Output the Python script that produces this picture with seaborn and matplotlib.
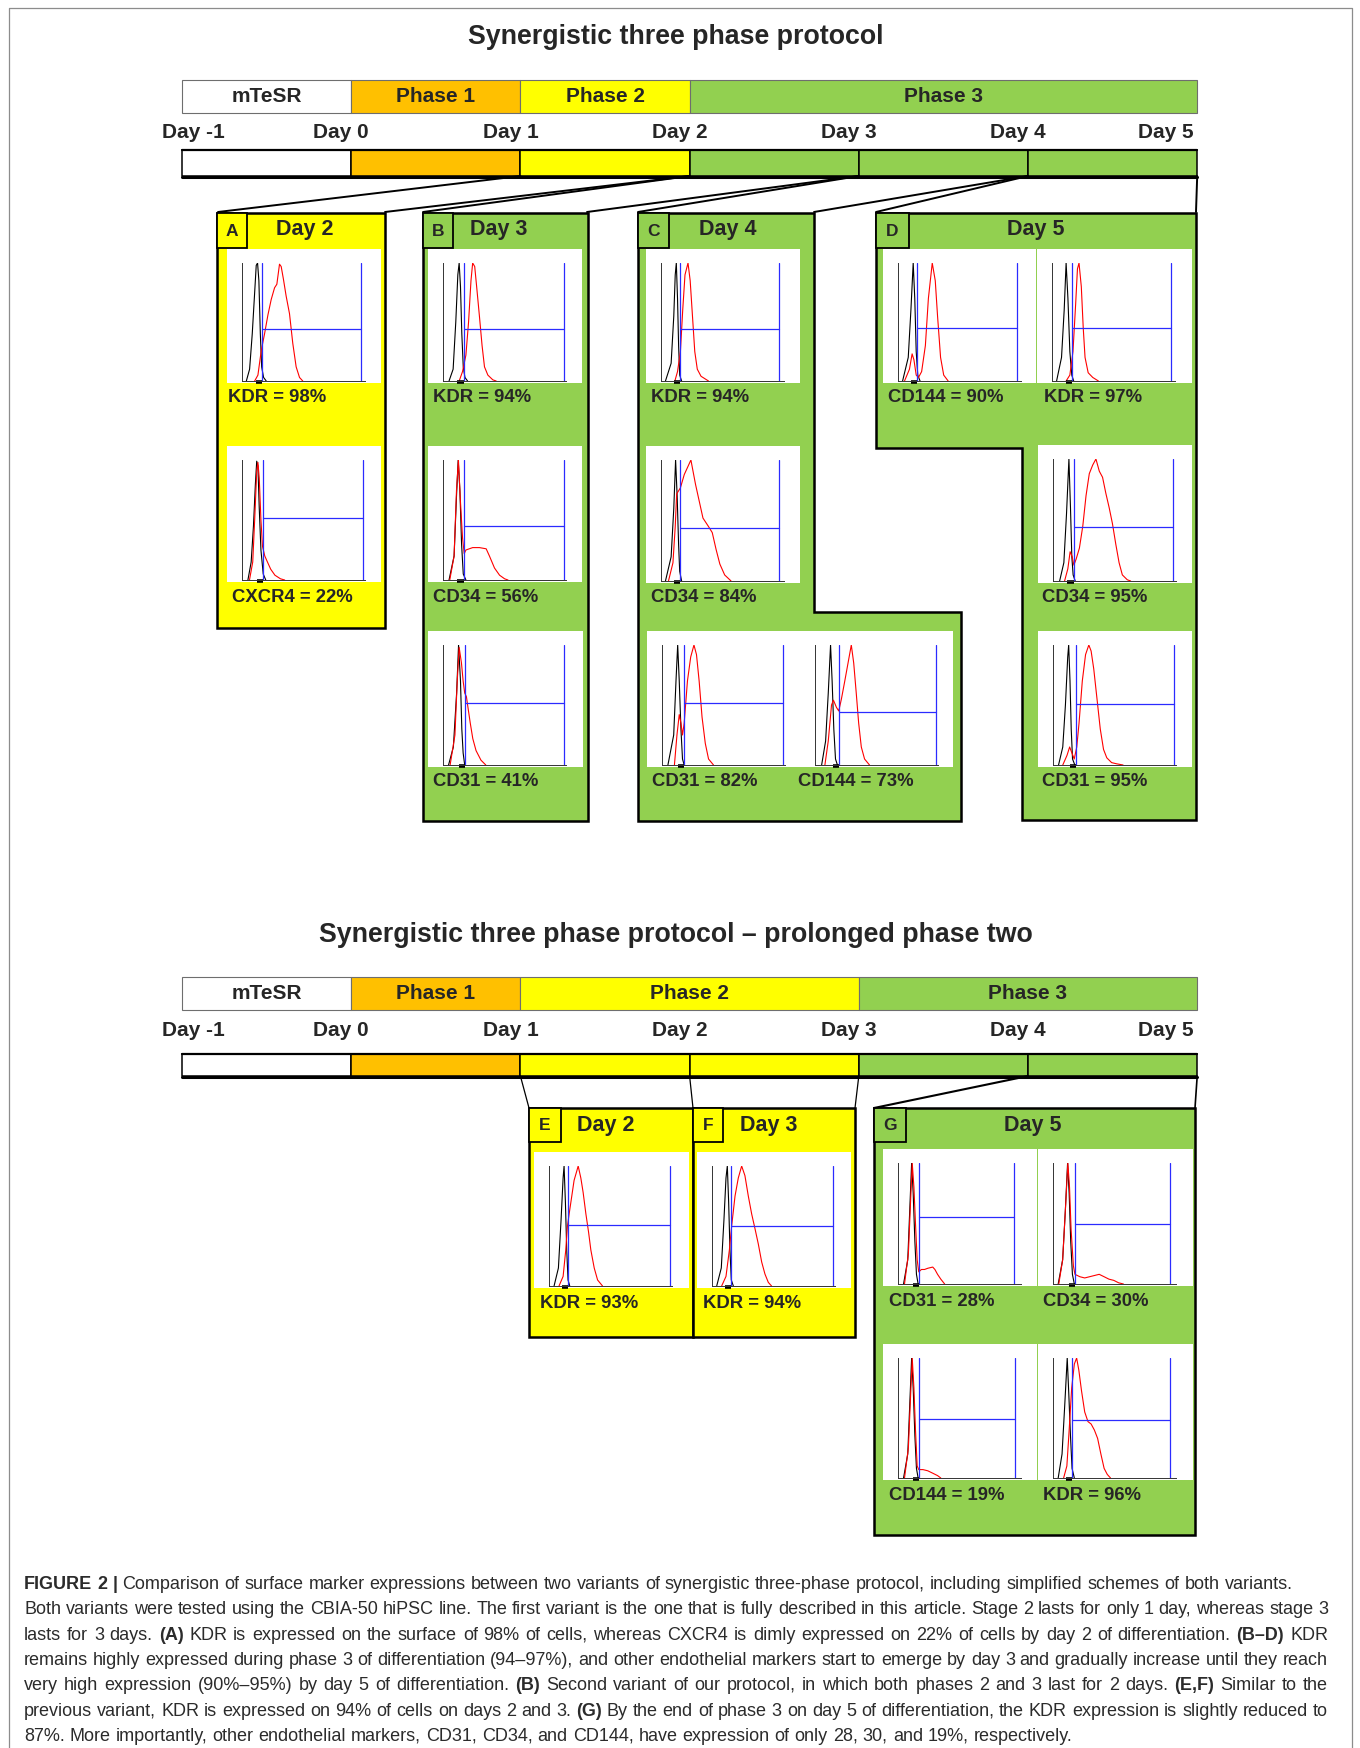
import matplotlib
matplotlib.use('Agg')
import matplotlib.pyplot as plt
import seaborn as sns
import numpy as np
from matplotlib.patches import Rectangle, Polygon

sns.set_style('white')
plt.rcParams['font.family'] = ['Liberation Sans', 'DejaVu Sans']

# ---------------------------------------------------------------- data
title_v1 = 'Synergistic three phase protocol'
title_v2 = 'Synergistic three phase protocol \u2013 prolonged phase two'
phase_names = ['mTeSR', 'Phase 1', 'Phase 2', 'Phase 3']
phase_len_v1 = [1, 1, 1, 3]          # days per phase, variant 1
phase_len_v2 = [1, 1, 2, 2]          # days per phase, variant 2
day_labels = ['Day -1', 'Day 0', 'Day 1', 'Day 2', 'Day 3', 'Day 4', 'Day 5']

panel_letters = ['A', 'B', 'C', 'D', 'E', 'F', 'G']
panel_days = ['Day 2', 'Day 3', 'Day 4', 'Day 5', 'Day 2', 'Day 3', 'Day 5']
panel_phase = ['Phase 2', 'Phase 3', 'Phase 3', 'Phase 3', 'Phase 2', 'Phase 2', 'Phase 3']

# histogram curves: x = log-channel position (% of axis), y = % of peak
A_KDR_black = ([3.6, 6.3, 8.5, 10.5, 11.8, 12.9, 14.0, 15.2, 16.3, 17.9, 20.1],
               [0, 10, 40, 75, 98, 100, 85, 40, 12, 3, 0])
A_KDR_red = ([10.5, 13.2, 16.0, 18.7, 21.5, 24.2, 27.0, 28.9, 31.1, 32.5, 34.4, 36.6, 39.4, 42.1, 44.9, 47.7, 50.4],
             [0, 5, 26, 40, 56, 69, 79, 82, 99, 97, 86, 72, 57, 32, 12, 3, 0])
A_CXCR4_black = ([4.9, 7.6, 9.5, 11.1, 12.2, 13.2, 14.3, 15.7, 17.6, 19.7],
                 [0, 15, 45, 80, 99, 95, 60, 25, 5, 0])
A_CXCR4_red = ([6.2, 8.9, 10.5, 12.2, 13.2, 14.3, 15.7, 17.0, 18.9, 21.1, 23.8, 27.3, 31.9, 35.4],
               [0, 15, 50, 90, 98, 85, 50, 28, 20, 15, 9, 4, 1, 0])
B_KDR_black = ([5.0, 8.4, 10.6, 12.3, 13.4, 14.5, 15.6, 16.8, 18.2, 20.4],
               [0, 10, 50, 90, 100, 80, 40, 12, 3, 0])
B_KDR_red = ([13.4, 16.2, 19.0, 21.2, 23.2, 24.6, 26.3, 27.9, 30.2, 32.4, 34.4, 37.2, 41.3, 44.1],
             [0, 8, 22, 50, 85, 100, 97, 80, 55, 30, 12, 5, 1, 0])
B_CD34_black = ([5.0, 9.2, 11.2, 12.6, 14.0, 15.4, 16.8, 19.0],
                [0, 20, 70, 100, 75, 30, 5, 0])
B_CD34_red = ([5.6, 9.2, 11.2, 12.8, 14.2, 16.2, 17.6, 19.0, 24.6, 30.2, 35.8, 38.5, 42.7, 46.9, 51.1, 53.9],
              [0, 20, 75, 100, 70, 35, 22, 25, 27, 27, 26, 20, 10, 4, 1, 0])
B_CD31_black = ([4.6, 8.6, 11.3, 12.9, 14.5, 15.6, 16.7, 18.0],
                [0, 15, 60, 100, 70, 30, 10, 0])
B_CD31_red = ([5.9, 9.9, 11.8, 13.4, 15.3, 16.7, 18.0, 19.4, 20.7, 22.6, 24.7, 27.4, 31.5, 35.5],
              [0, 25, 70, 98, 85, 70, 60, 57, 48, 35, 22, 12, 4, 0])
C_KDR_black = ([3.7, 8.4, 10.6, 11.8, 12.7, 13.7, 14.6, 15.5, 17.1],
               [0, 15, 55, 90, 100, 70, 30, 5, 0])
C_KDR_red = ([11.5, 13.7, 16.1, 18.0, 19.9, 22.4, 24.2, 26.1, 28.0, 30.1, 33.2, 39.4],
             [0, 8, 25, 60, 90, 100, 85, 55, 25, 10, 4, 0])
C_CD34_black = ([3.7, 8.4, 10.6, 12.1, 13.4, 14.6, 15.5, 17.1],
                [0, 20, 60, 100, 70, 30, 8, 0])
C_CD34_red = ([6.2, 9.9, 11.8, 13.0, 16.1, 19.3, 24.8, 28.6, 31.7, 34.8, 39.4, 42.5, 45.7, 48.8, 52.8, 58.1],
              [0, 15, 45, 72, 77, 88, 100, 80, 66, 52, 45, 40, 26, 14, 5, 0])
C_CD31_black = ([4.9, 9.7, 11.6, 13.0, 14.3, 15.7, 17.0, 18.4],
                [0, 25, 70, 100, 70, 30, 5, 0])
C_CD31_red = ([10.3, 12.4, 14.3, 15.7, 17.0, 18.4, 21.1, 23.8, 26.5, 28.6, 30.8, 33.2, 35.9, 38.6, 42.7],
              [0, 25, 42, 35, 25, 35, 70, 90, 100, 92, 70, 40, 18, 5, 0])
C_CD144_black = ([5.5, 8.8, 11.0, 12.9, 14.2, 15.6, 17.0, 18.6],
                 [0, 20, 60, 100, 70, 30, 5, 0])
C_CD144_red = ([8.2, 11.0, 13.7, 15.3, 17.8, 19.7, 21.9, 24.7, 27.4, 30.1, 32.1, 34.2, 36.2, 38.4, 41.1, 45.2],
               [0, 20, 50, 54, 48, 45, 55, 70, 85, 100, 85, 60, 35, 15, 5, 0])
D_CD144_black = ([3.8, 8.5, 10.7, 12.6, 13.9, 15.1, 16.4, 18.3],
                 [0, 20, 60, 100, 70, 25, 5, 0])
D_CD144_red = ([5.4, 9.5, 11.7, 13.2, 15.1, 17.0, 19.6, 22.7, 25.2, 28.4, 30.9, 32.8, 35.3, 37.9, 41.6],
               [0, 10, 23, 18, 5, 3, 8, 30, 70, 100, 85, 55, 20, 5, 0])
D_KDR_black = ([3.8, 7.9, 10.1, 11.7, 13.2, 14.8, 16.4, 18.0],
               [0, 20, 60, 100, 70, 25, 5, 0])
D_KDR_red = ([11.7, 14.8, 17.4, 19.6, 21.1, 22.4, 24.3, 25.9, 27.4, 30.0, 33.8, 38.5],
             [0, 5, 25, 65, 95, 100, 80, 45, 20, 7, 3, 0])
D_CD34_black = ([5.5, 9.0, 11.2, 13.2, 14.5, 15.6, 16.7, 18.4],
                [0, 15, 55, 100, 60, 20, 5, 0])
D_CD34_red = ([9.6, 12.3, 14.2, 15.9, 17.3, 19.2, 21.9, 24.7, 27.4, 30.1, 32.9, 35.6, 38.4, 41.1, 43.8, 46.6,
               49.3, 52.1, 54.8, 57.5, 61.6, 64.4],
              [0, 10, 24, 20, 13, 18, 27, 45, 70, 88, 95, 100, 90, 85, 72, 60, 47, 30, 15, 5, 1, 0])
D_CD31_black = ([4.6, 8.1, 10.3, 12.2, 13.0, 14.1, 15.1, 16.2, 18.1],
                [0, 15, 50, 90, 100, 70, 30, 5, 0])
D_CD31_red = ([8.1, 11.6, 13.8, 15.7, 17.6, 19.7, 21.6, 24.3, 27.0, 29.7, 31.6, 33.8, 36.5, 39.2, 41.9, 44.6,
               48.6, 52.7, 58.1],
              [0, 8, 15, 10, 5, 15, 35, 70, 92, 100, 95, 80, 55, 30, 13, 6, 2, 1, 0])
E_KDR_black = ([4.2, 7.8, 10.0, 11.7, 12.5, 13.6, 14.7, 15.8, 17.2],
               [0, 15, 55, 90, 100, 70, 30, 5, 0])
E_KDR_red = ([8.3, 11.7, 13.9, 15.3, 16.7, 18.9, 20.8, 22.8, 24.2, 26.4, 28.3, 30.6, 32.8, 34.7, 37.5, 40.3, 44.4],
             [0, 8, 30, 50, 60, 75, 88, 95, 100, 90, 78, 60, 45, 30, 15, 5, 0])
F_KDR_black = ([3.9, 7.7, 9.9, 11.6, 12.7, 13.8, 14.9, 16.0, 17.7],
               [0, 15, 55, 90, 100, 70, 30, 5, 0])
F_KDR_red = ([8.0, 11.6, 14.4, 16.3, 19.1, 21.8, 24.6, 27.3, 30.1, 32.9, 35.6, 38.4, 41.2, 43.9, 46.7, 49.4],
             [0, 8, 30, 50, 75, 90, 100, 92, 75, 60, 48, 35, 20, 10, 3, 0])
G_CD31_black = ([4.6, 8.1, 9.9, 11.3, 12.6, 14.0, 15.3, 16.7],
                [0, 20, 65, 100, 75, 35, 8, 0])
G_CD31_red = ([5.4, 8.6, 10.5, 11.8, 13.2, 14.5, 15.9, 17.2, 19.4, 22.0, 24.7, 28.8, 30.6, 32.8, 35.5, 38.7],
              [0, 25, 70, 100, 80, 50, 20, 10, 12, 12, 13, 14, 12, 8, 4, 0])
G_CD34_black = ([4.3, 8.0, 10.2, 12.1, 13.4, 14.7, 16.1, 17.7],
                [0, 20, 60, 100, 75, 35, 8, 0])
G_CD34_red = ([4.8, 8.0, 10.2, 12.3, 13.7, 15.0, 16.9, 18.2, 22.3, 26.3, 30.3, 34.3, 38.3, 42.4, 46.4, 50.4, 54.4, 58.4],
              [0, 20, 60, 100, 80, 45, 15, 8, 6, 5, 6, 7, 8, 6, 4, 3, 1, 0])
G_CD144_black = ([4.6, 8.1, 9.9, 11.3, 12.6, 14.0, 15.3, 16.7],
                 [0, 20, 65, 100, 75, 35, 8, 0])
G_CD144_red = ([5.4, 8.6, 10.5, 11.8, 13.2, 14.5, 15.9, 17.2, 20.7, 24.7, 28.8, 32.8, 35.5],
               [0, 25, 70, 100, 75, 40, 10, 7, 7, 6, 4, 2, 0])
G_KDR_black = ([4.3, 7.5, 9.7, 11.8, 13.1, 14.5, 15.8, 17.7],
               [0, 20, 60, 100, 70, 35, 8, 0])
G_KDR_red = ([8.8, 11.5, 13.4, 15.5, 17.7, 19.6, 21.4, 23.6, 26.3, 29.0, 31.6, 34.3, 37.0, 39.7, 42.4, 45.0, 47.7],
             [0, 10, 40, 75, 95, 100, 90, 73, 55, 47, 45, 40, 33, 20, 8, 3, 0])

# marker names and % positive
markers = ['KDR', 'CXCR4', 'KDR', 'CD34', 'CD31', 'KDR', 'CD34', 'CD31', 'CD144',
           'CD144', 'KDR', 'CD34', 'CD31', 'KDR', 'KDR', 'CD31', 'CD34', 'CD144', 'KDR']
percents = [98, 22, 94, 56, 41, 94, 84, 82, 73, 90, 97, 95, 95, 93, 94, 28, 30, 19, 96]
curves = [(A_KDR_black, A_KDR_red), (A_CXCR4_black, A_CXCR4_red), (B_KDR_black, B_KDR_red),
          (B_CD34_black, B_CD34_red), (B_CD31_black, B_CD31_red), (C_KDR_black, C_KDR_red),
          (C_CD34_black, C_CD34_red), (C_CD31_black, C_CD31_red), (C_CD144_black, C_CD144_red),
          (D_CD144_black, D_CD144_red), (D_KDR_black, D_KDR_red), (D_CD34_black, D_CD34_red),
          (D_CD31_black, D_CD31_red), (E_KDR_black, E_KDR_red), (F_KDR_black, F_KDR_red),
          (G_CD31_black, G_CD31_red), (G_CD34_black, G_CD34_red), (G_CD144_black, G_CD144_red),
          (G_KDR_black, G_KDR_red)]
# gate: left marker, right marker, marker bar height
gate_left = [16.5, 17.8, 17, 17, 18.3, 15.5, 16.1, 18.4, 19.7, 15.8, 16.4, 17, 19, 15.6, 15.5, 17.2, 18.2, 17.2, 15.5]
gate_right = [98.6, 100, 100, 100, 100, 97.5, 97.5, 100, 100, 98.4, 99, 99.5, 100, 100, 100, 96, 97, 96.8, 97]
gate_height = [44, 52, 44, 45, 52, 44, 44, 52, 44.5, 45, 45, 44, 51, 50.6, 50, 55, 50, 49, 48]

caption_lines = [
    [('FIGURE 2 |', True), ('Comparison of surface marker expressions between two variants of synergistic three-phase protocol, including simplified schemes of both variants.', False)],
    [('Both variants were tested using the CBIA-50 hiPSC line. The first variant is the one that is fully described in this article. Stage 2 lasts for only 1 day, whereas stage 3', False)],
    [('lasts for 3 days.', False), ('(A)', True), ('KDR is expressed on the surface of 98% of cells, whereas CXCR4 is dimly expressed on 22% of cells by day 2 of differentiation.', False), ('(B\u2013D)', True), ('KDR', False)],
    [('remains highly expressed during phase 3 of differentiation (94\u201397%), and other endothelial markers start to emerge by day 3 and gradually increase until they reach', False)],
    [('very high expression (90%\u201395%) by day 5 of differentiation.', False), ('(B)', True), ('Second variant of our protocol, in which both phases 2 and 3 last for 2 days.', False), ('(E,F)', True), ('Similar to the', False)],
    [('previous variant, KDR is expressed on 94% of cells on days 2 and 3.', False), ('(G)', True), ('By the end of phase 3 on day 5 of differentiation, the KDR expression is slightly reduced to', False)],
    [('87%. More importantly, other endothelial markers, CD31, CD34, and CD144, have expression of only 28, 30, and 19%, respectively.', False)],
]

# ---------------------------------------------------------------- style / layout
W, H = 1360, 1748
COL = {'mTeSR': '#FFFFFF', 'Phase 1': '#FFC000', 'Phase 2': '#FFFF00', 'Phase 3': '#92D050'}
BAR_X0, DAY_W = 182, 169.2

fig = plt.figure(figsize=(W / 100, H / 100), dpi=100)
ax = fig.add_axes([0, 0, 1, 1])
ax.set_xlim(0, W)
ax.set_ylim(H, 0)
ax.axis('off')

# outer frame
ax.plot([9, 9, 1352, 1352], [H + 5, 8, 8, H + 5], color='#8c8c8c', lw=0.9)


def dx(d):
    return BAR_X0 + (d + 1) * DAY_W


def header(title, y_title, lens, y_bar, y_days, y_strip):
    ax.text(676, y_title, title, ha='center', va='center', fontsize=19.3, fontweight='bold')
    start = -1
    day_cols = []
    for name, n in zip(phase_names, lens):
        ax.add_patch(Rectangle((dx(start), y_bar[0]), n * DAY_W, y_bar[1] - y_bar[0],
                               fc=COL[name], ec='#6e6e6e', lw=0.8))
        ax.text(dx(start) + n * DAY_W / 2, (y_bar[0] + y_bar[1]) / 2, name, ha='center',
                va='center', fontsize=15, fontweight='bold')
        day_cols += [COL[name]] * n
        start += n
    for i, lab in enumerate(day_labels):
        cx = dx(i - 1) - 10
        if i == 0:
            cx = dx(-1) + 11
        if i == len(day_labels) - 1:
            cx = dx(5) - 31
        ax.text(cx, y_days, lab, ha='center', va='center', fontsize=15, fontweight='bold')
    for i, c in enumerate(day_cols):
        ax.add_patch(Rectangle((dx(i - 1), y_strip[0]), DAY_W, y_strip[1] - y_strip[0],
                               fc=c, ec='black', lw=1.1))
    ax.plot([dx(-1), dx(5)], [y_strip[1] + 1, y_strip[1] + 1], color='black', lw=2.2)
    ax.plot([dx(-1), dx(5)], [y_strip[0], y_strip[0]], color='black', lw=1.6)


header(title_v1, 37, phase_len_v1, (80, 113), 132, (150, 176))
header(title_v2, 935, phase_len_v2, (977, 1010), 1031, (1054, 1076))

# connector lines
conn1 = [((dx(1), 176), (218, 212)), ((dx(2), 176), (385, 212)), ((dx(2), 176), (423, 212)),
         ((dx(3), 176), (587, 212)), ((dx(3), 176), (638, 212)), ((dx(4), 176), (814, 212)),
         ((dx(4), 176), (876, 212)), ((dx(5), 176), (1196, 212))]
for (x0, y0), (x1, y1) in conn1:
    ax.plot([x0, x1], [y0, y1], color='black', lw=1.4)
conn2 = [((dx(1), 1076), (529, 1108), 0.9), ((dx(2), 1076), (693, 1108), 0.9),
         ((dx(3), 1076), (855, 1108), 0.9), ((dx(4), 1076), (874, 1108), 1.5),
         ((dx(5), 1076), (1195, 1108), 1.2)]
for (x0, y0), (x1, y1), lw in conn2:
    ax.plot([x0, x1], [y0, y1], color='black', lw=lw)

# panel outlines
panel_shapes = [
    [(217, 213), (385, 213), (385, 628), (217, 628)],
    [(423, 213), (588, 213), (588, 821), (423, 821)],
    [(638, 213), (814, 213), (814, 612), (961, 612), (961, 821), (638, 821)],
    [(876, 213), (1196, 213), (1196, 820), (1022, 820), (1022, 448), (876, 448)],
    [(529, 1108), (693, 1108), (693, 1337), (529, 1337)],
    [(693, 1108), (855, 1108), (855, 1337), (693, 1337)],
    [(874, 1108), (1195, 1108), (1195, 1535), (874, 1535)],
]
letter_boxes = [(217, 213, 30, 35), (423, 213, 30, 35), (638, 213, 31, 35), (876, 213, 33, 35),
                (529, 1108, 32, 34), (693, 1108, 30, 34), (874, 1108, 32, 34)]
day_title_pos = [(305, 229), (499, 229), (728, 229), (1036, 229), (606, 1125), (769, 1125), (1033, 1126)]
for shape, lb, dp, let, day, ph in zip(panel_shapes, letter_boxes, day_title_pos,
                                       panel_letters, panel_days, panel_phase):
    ax.add_patch(Polygon(shape, closed=True, fc=COL[ph], ec='black', lw=1.8, joinstyle='miter'))
    ax.add_patch(Rectangle((lb[0], lb[1]), lb[2], lb[3], fc=COL[ph], ec='black', lw=1.3))
    ax.text(lb[0] + lb[2] / 2, lb[1] + lb[3] / 2 + 1, let, ha='center', va='center',
            fontsize=12.5, fontweight='bold')
    ax.text(dp[0], dp[1], day, ha='center', va='center', fontsize=15.5, fontweight='bold')

# histogram cells (white boxes) in pixel layout
cells = [(227, 249, 154, 134), (227, 446, 154, 136),
         (428, 249, 154, 134), (428, 446, 154, 136), (428, 631, 155, 136),
         (646, 249, 154, 134), (646, 446, 154, 137), (647, 631, 153, 136), (800, 631, 153, 136),
         (883, 249, 153, 134), (1037, 249, 155, 134), (1038, 445, 154, 138), (1038, 631, 154, 136),
         (534, 1152, 155, 136), (697, 1152, 154, 136),
         (883, 1149, 154, 137), (1038, 1149, 155, 137), (883, 1344, 154, 136), (1038, 1344, 155, 136)]
label_dx = [1, 5, 5, 5, 5, 5, 5, 5, -2, 5, 7, 4, 4, 6, 6, 6, 5, 6, 5]

xticks = []
for d in range(4):
    for k in range(1, 10):
        xticks.append(25 * (d + np.log10(k)))
xticks.append(100)

for i, (cx, cy, cw, ch) in enumerate(cells):
    ax.add_patch(Rectangle((cx, cy), cw, ch, fc='white', ec='none'))
    ax.text(cx + label_dx[i], cy + ch + 15, f'{markers[i]} = {percents[i]}%', ha='left',
            va='center', fontsize=13.3, fontweight='bold')
    left, top = cx + 15, cy + 14
    aw, ah = 123, ch - 16
    hax = fig.add_axes([left / W, 1 - (top + ah) / H, aw / W, ah / H])
    hax.set_facecolor('none')
    blk, red = curves[i]
    sns.lineplot(x=blk[0], y=blk[1], ax=hax, color='black', linewidth=0.8, estimator=None, sort=False)
    sns.lineplot(x=red[0], y=red[1], ax=hax, color='#ff0000', linewidth=0.8, estimator=None, sort=False)
    g0, g1, gh = gate_left[i], gate_right[i], gate_height[i]
    hax.plot([g0, g0], [0, 100], color='#2b2bff', lw=0.9)
    hax.plot([g1, g1], [0, 100], color='#2b2bff', lw=0.9)
    hax.plot([g0, g1], [gh, gh], color='#2b2bff', lw=0.9)
    hax.plot([g0 - 5, g0], [-1.2, -1.2], color='black', lw=2.6, solid_capstyle='butt', clip_on=False)
    hax.set_xlim(0, 102)
    hax.set_ylim(0, 100)
    for s in ['top', 'right']:
        hax.spines[s].set_visible(False)
    for s in ['left', 'bottom']:
        hax.spines[s].set_color('#333333')
        hax.spines[s].set_linewidth(0.7)
    hax.set_xticks(xticks)
    hax.set_yticks(np.arange(0, 101, 10))
    hax.tick_params(axis='both', direction='out', length=2.5, width=0.5, colors='#333333',
                    labelbottom=False, labelleft=False, pad=0)
    hax.set_xlabel('')
    hax.set_ylabel('')
    hax.grid(False)

# caption with justified lines
renderer = fig.canvas.get_renderer()
CAP_COLOR = '#2b2b2b'
X0, X_RIGHT = 24, 1328


def make_words(line, fs):
    out = []
    for txt, bold in line:
        for w in txt.split(' '):
            if w == '':
                continue
            t = ax.text(0, 0, w, fontsize=fs, fontweight='bold' if bold else 'normal',
                        color=CAP_COLOR, ha='left', va='baseline')
            out.append((t, t.get_window_extent(renderer).width))
    return out


fs = 12.0
probe = make_words(caption_lines[0], fs)
natural = sum(w for _, w in probe) + (len(probe) - 1) * 0.278 * fs * 100 / 72
for t, _ in probe:
    t.remove()
fs = fs * (1296 - X0) / natural
space = 0.278 * fs * 100 / 72
for li, line in enumerate(caption_lines):
    y = 1589 + li * 25.3
    words = make_words(line, fs)
    total = sum(w for _, w in words)
    sp = space
    if 1 <= li <= 5:
        sp = (X_RIGHT - X0 - total) / (len(words) - 1)
    x = X0
    for t, w in words:
        t.set_position((x, y))
        x += w + sp

fig.savefig('out.png', dpi=100)
